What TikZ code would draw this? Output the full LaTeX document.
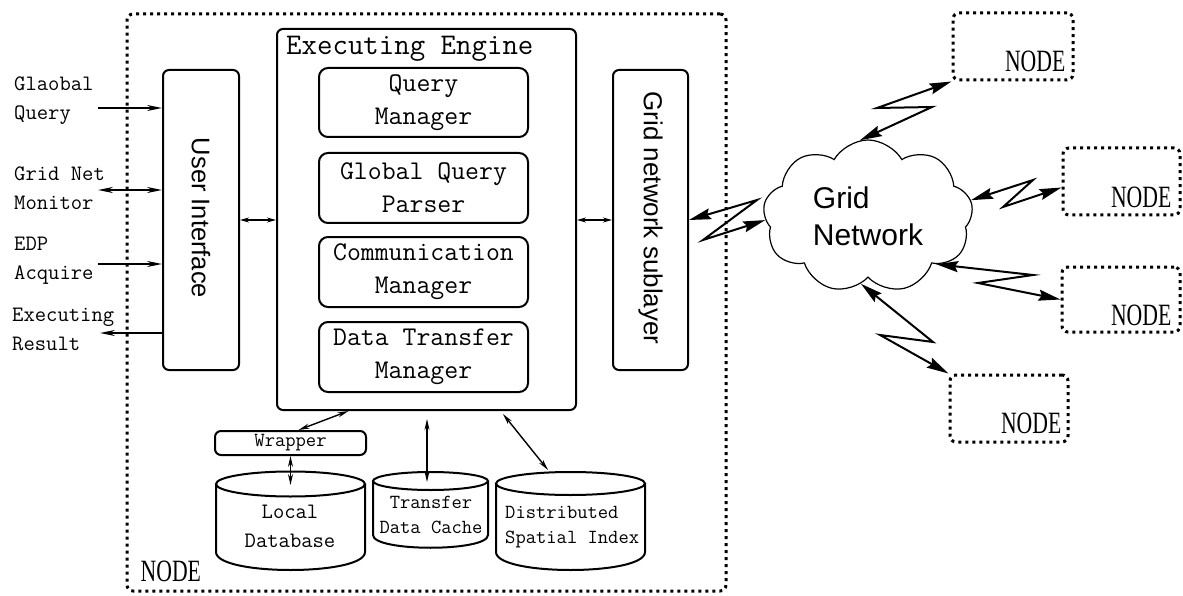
\documentclass[tikz,border=0pt]{standalone}
\usepackage{fontspec}
\newfontfamily\sansf{Liberation Sans}
\newfontfamily\serf{Liberation Serif}
\usetikzlibrary{arrows.meta,shapes.symbols}
\begin{document}
\begin{tikzpicture}[x=1pt,y=-1pt,
 box/.style={draw, line width=2pt, rounded corners=7pt, inner sep=0pt, fill=white},
 dotbox/.style={draw, line width=3pt, dash pattern=on 3pt off 4pt, rounded corners=6pt, inner sep=0pt},
 mono/.style={font=\ttfamily\fontsize{27}{33}\selectfont, align=center},
 lbl/.style={font=\ttfamily\fontsize{22}{29}\selectfont, align=left, inner sep=0pt, anchor=west},
 sanslbl/.style={font=\sansf\fontsize{25.5}{30}\selectfont, inner sep=0pt, rotate=-90},
 nodelbl/.style={font=\serf\fontsize{31}{31}\selectfont, inner sep=0pt},
 arr/.style={line width=1.4pt, -{Stealth[length=15pt,width=6pt]}},
 darr/.style={line width=1.4pt, {Stealth[length=15pt,width=6pt]}-{Stealth[length=15pt,width=6pt]}},
 sarr/.style={line width=1.3pt, {Stealth[length=9pt,width=5pt]}-{Stealth[length=9pt,width=5pt]}},
 marr/.style={line width=1.4pt, {Stealth[length=11pt,width=5pt]}-{Stealth[length=11pt,width=5pt]}},
 zigarr/.style={line width=2pt, {Stealth[length=22pt,width=11pt,inset=3pt]}-{Stealth[length=22pt,width=11pt,inset=3pt]}},
 dbline/.style={line width=2pt, fill=white}
]
\fill[white] (0,0) rectangle (1183,596);
\path[use as bounding box] (0,0) rectangle (1183,596);

% outer node
\node[dotbox, minimum width=599pt, minimum height=577pt] (outer) at (426.5,302.5) {};
\node[nodelbl, anchor=south west] (outerlbl) at ([xshift=15pt,yshift=11pt]outer.south west) {\scalebox{0.7}[1]{NODE}};

% user interface
\node[box, rounded corners=6pt, minimum width=76pt, minimum height=300pt] (ui) at (201,220) {};
\node[sanslbl] (uil) at (201,218) {User Interface};

% executing engine
\node[box, rounded corners=6pt, minimum width=299pt, minimum height=381pt] (eng) at (426.5,219.5) {};
\node[font=\ttfamily\fontsize{30}{30}\selectfont, anchor=west, inner sep=0pt] (engt) at (286,49) {Executing Engine};
\node[box, rounded corners=9pt, minimum width=209pt, minimum height=69pt, mono] (qm) at (423.5,102.5) {Query\\Manager};
\node[box, rounded corners=9pt, minimum width=209pt, minimum height=70pt, mono] (gqp) at (423.5,188) {Global Query\\Parser};
\node[box, rounded corners=9pt, minimum width=209pt, minimum height=70pt, mono] (cm) at (423.5,272) {Communication\\Manager};
\node[box, rounded corners=9pt, minimum width=209pt, minimum height=70pt, mono] (dtm) at (423.5,357) {Data Transfer\\Manager};

% grid network sublayer
\node[box, rounded corners=6pt, minimum width=75pt, minimum height=300pt] (gns) at (650.5,220) {};
\node[sanslbl, font=\sansf\fontsize{26}{30}\selectfont] (gnsl) at (650.5,218) {Grid network sublayer};

% left labels and arrows
\node[lbl] (gql) at (14,101) {Glaobal\\Query};
\node[lbl] (gnml) at (14,188) {Grid Net\\Monitor};
\node[lbl] (edpl) at (14,261) {EDP\\Acquire};
\node[lbl] (erl) at (12,329) {Executing\\Result};
\coordinate (gq) at (98,108);
\coordinate (gnm) at (98,190);
\coordinate (edp) at (98,264);
\coordinate (er) at (100,333);
\draw[arr] (gq) -- (gq -| ui.west);
\draw[darr] (gnm) -- (gnm -| ui.west);
\draw[arr] (edp) -- (edp -| ui.west);
\draw[arr] (er -| ui.west) -- (er);

% internal arrows
\draw[sarr] (ui.east) -- (ui.east -| eng.west);
\draw[sarr] (gns.west -| eng.east) -- (gns.west);

% wrapper and databases
\node[box, rounded corners=6pt, minimum width=151pt, minimum height=24pt, font=\ttfamily\fontsize{20}{20}\selectfont] (wrap) at (290.5,443) {Wrapper};

\draw[dbline] (216,484) -- (216,552) .. controls (216,576) and (365,576) .. (365,552) -- (365,484);
\draw[dbline] (290.5,484) ellipse [x radius=74.5, y radius=12.5];
\draw[dbline] (373,481) -- (373,535) .. controls (373,552) and (488,552) .. (488,535) -- (488,481);
\draw[dbline] (430.5,481) ellipse [x radius=57.5, y radius=9];
\draw[dbline] (496,483.5) -- (496,552) .. controls (496,576) and (645,576) .. (645,552) -- (645,483.5);
\draw[dbline] (570.5,483.5) ellipse [x radius=74.5, y radius=11.5];

\node[font=\ttfamily\fontsize{22}{29}\selectfont, align=center, inner sep=0pt] (ldb) at (290,526) {Local\\Database};
\node[font=\ttfamily\fontsize{20}{25}\selectfont, align=center, inner sep=0pt] (tdc) at (431,515) {Transfer\\Data Cache};
\node[font=\ttfamily\fontsize{20}{25}\selectfont, align=left, inner sep=0pt, anchor=west] (dsi) at (505,527) {Distributed\\Spatial Index};

\coordinate (ldbtop) at (290.5,485);
\coordinate (tdctop) at (427,482);
\coordinate (dsitop) at (548,470);
\draw[marr] ([xshift=8pt]wrap.north) -- ([xshift=-78pt]eng.south);
\draw[marr] (wrap.south) -- (ldbtop);
\draw[marr] (tdctop) -- ([xshift=0.5pt,yshift=-8pt]eng.south);
\draw[marr] ([xshift=76.5pt,yshift=-3pt]eng.south) -- (dsitop);

% grid network cloud
\node[cloud, draw, line width=1.2pt, cloud puffs=9, cloud puff arc=120, aspect=1.37,
      minimum width=210pt, minimum height=153pt, inner sep=0pt,
      font=\sansf\fontsize{30}{37}\selectfont, align=left] (cloud) at (868,216.5) {Grid\\Network};

% remote nodes
\node[dotbox, minimum width=120pt, minimum height=67pt] (n1) at (1013,46.5) {};
\node[dotbox, minimum width=117pt, minimum height=67pt] (n2) at (1121.5,181.5) {};
\node[dotbox, minimum width=118pt, minimum height=65pt] (n3) at (1121,299.5) {};
\node[dotbox, minimum width=118pt, minimum height=67pt] (n4) at (1009,408.5) {};
\node[nodelbl, anchor=south east] (n1l) at ([xshift=-9pt,yshift=9pt]n1.south east) {\scalebox{0.7}[1]{NODE}};
\node[nodelbl, anchor=south east] (n2l) at ([xshift=-10pt,yshift=8pt]n2.south east) {\scalebox{0.7}[1]{NODE}};
\node[nodelbl, anchor=south east] (n3l) at ([xshift=-10pt,yshift=7pt]n3.south east) {\scalebox{0.7}[1]{NODE}};
\node[nodelbl, anchor=south east] (n4l) at ([xshift=-8pt,yshift=9pt]n4.south east) {\scalebox{0.7}[1]{NODE}};

% lightning links
\draw[zigarr] (gns.east) -- (757,200) -- (703,240) -- (cloud.182);
\draw[zigarr] (cloud.96) -- (932,107) -- (877,108) -- (n1.south west);
\draw[zigarr] (cloud.9) -- (1033,180) -- (1003,207) -- ([yshift=-6pt]n2.west);
\draw[zigarr] (cloud.325) -- (1033,275) -- (978,283) -- (n3.west);
\draw[zigarr] (cloud.264) -- (933,342) -- (880,335) -- (n4.north west);
\end{tikzpicture}
\end{document}
